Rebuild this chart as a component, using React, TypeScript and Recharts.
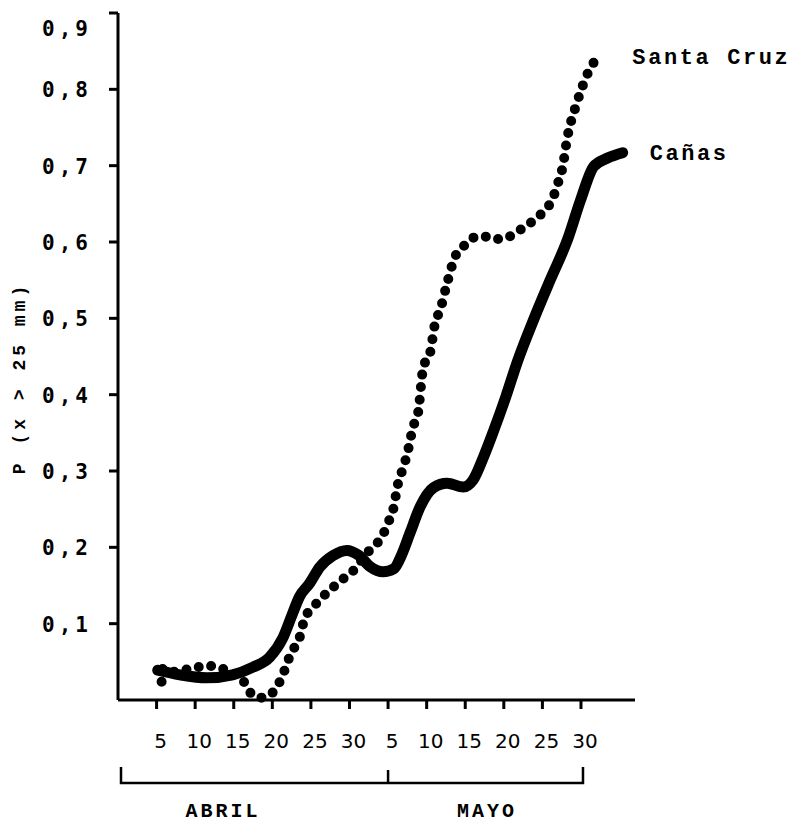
import { LineChart, Line, XAxis, YAxis } from "recharts"

// x is the tick slot (0 = 5 abril ... 11 = 30 mayo), y is the probability
const canasX = [0.03, 0.6, 1.3, 1.97, 2.5, 2.93, 3.27, 3.53, 3.7, 3.97, 4.23, 4.57, 4.93, 5.23, 5.53, 5.87, 6.15, 6.35, 6.57, 6.83, 7.17, 7.53, 7.95, 8.2, 8.47, 8.73, 9.05, 9.35, 9.77, 10.2, 10.65, 10.99, 11.33, 11.69, 12.08]
const canasY = [0.039, 0.033, 0.029, 0.033, 0.043, 0.056, 0.081, 0.114, 0.135, 0.153, 0.174, 0.189, 0.196, 0.19, 0.175, 0.168, 0.172, 0.19, 0.219, 0.253, 0.278, 0.284, 0.279, 0.288, 0.318, 0.352, 0.397, 0.443, 0.498, 0.55, 0.603, 0.655, 0.699, 0.71, 0.717]

const santaCruzX = [0.13, 0.16, 0.42, 0.68, 0.99, 1.3, 1.64, 1.9, 2.29, 2.42, 2.68, 2.94, 3.12, 3.27, 3.5, 3.69, 3.84, 4.03, 4.23, 4.49, 4.75, 4.96, 5.19, 5.4, 5.61, 5.84, 6.0, 6.13, 6.26, 6.39, 6.49, 6.65, 6.78, 6.91, 7.09, 7.22, 7.35, 7.53, 7.74, 7.95, 8.31, 8.6, 8.86, 9.22, 9.51, 9.77, 10.03, 10.26, 10.39, 10.52, 10.65, 10.86, 10.99, 11.14, 11.33, 11.58]
const santaCruzY = [0.024, 0.041, 0.037, 0.039, 0.042, 0.045, 0.042, 0.037, 0.022, 0.01, 0.003, 0.007, 0.017, 0.033, 0.063, 0.079, 0.107, 0.12, 0.131, 0.144, 0.155, 0.164, 0.174, 0.19, 0.2, 0.214, 0.232, 0.249, 0.284, 0.304, 0.321, 0.358, 0.377, 0.435, 0.455, 0.494, 0.511, 0.546, 0.581, 0.594, 0.607, 0.607, 0.604, 0.609, 0.619, 0.628, 0.64, 0.656, 0.675, 0.697, 0.738, 0.777, 0.797, 0.817, 0.835, 0.843]

const xTicks = [0, 1, 2, 3, 4, 5, 6, 7, 8, 9, 10, 11]
const xTickLabels = ["5", "10", "15", "20", "25", "30", "5", "10", "15", "20", "25", "30"]
const yTicks = [0.1, 0.2, 0.3, 0.4, 0.5, 0.6, 0.7, 0.8, 0.9]
const yTickLabels = ["0,1", "0,2", "0,3", "0,4", "0,5", "0,6", "0,7", "0,8", "0,9"]
const months = ["ABRIL", "MAYO"]

const canasData = canasX.map((x, i) => ({ x, y: canasY[i] }))
const santaCruzData = santaCruzX.map((x, i) => ({ x, y: santaCruzY[i] }))

const W = 796
const H = 823
const LEFT = 118
const RIGHT = 635
const TOP = 13
const BOTTOM = 700
const X_MIN = -1
const X_MAX = 12.4

const xPos = (v: number) => LEFT + ((v - X_MIN) / (X_MAX - X_MIN)) * (RIGHT - LEFT)

const XTick = ({ payload }: any) => (
  <text
    x={xPos(payload.value) + 4}
    y={748}
    textAnchor="middle"
    fontFamily="DejaVu Sans"
    fontSize={20}
    fill="#000"
  >
    {xTickLabels[xTicks.indexOf(payload.value)]}
  </text>
)

const YTick = ({ y, payload }: any) => {
  const i = yTicks.indexOf(payload.value)
  const shift = i === yTicks.length - 1 ? 15 : 0
  return (
    <text
      x={92}
      y={y + 8 + shift}
      textAnchor="end"
      fontFamily="DejaVu Sans Mono"
      fontWeight="bold"
      fontSize={21}
      letterSpacing={4}
      fill="#000"
    >
      {yTickLabels[i]}
    </text>
  )
}

const endLabel = (name: string, last: number, dx: number) => (props: any) => {
  if (props.index !== last) return null
  return (
    <text
      x={props.x + dx}
      y={props.y + 7}
      fontFamily="Liberation Mono"
      fontWeight="bold"
      fontSize={22}
      letterSpacing={2.6}
      fill="#000"
    >
      {name}
    </text>
  )
}

export default function App() {
  const divider = xPos(6)
  const monthEnd = xPos(11)
  return (
    <div style={{ position: "absolute", left: 0, top: 0, background: "#fff" }}>
      <LineChart
        width={W}
        height={H}
        margin={{ top: TOP, right: W - RIGHT, bottom: 0, left: 0 }}
      >
        <XAxis
          type="number"
          dataKey="x"
          domain={[X_MIN, X_MAX]}
          ticks={xTicks}
          allowDataOverflow
          height={H - BOTTOM}
          tickSize={9}
          tickLine={{ stroke: "#000", strokeWidth: 3 }}
          axisLine={{ stroke: "#000", strokeWidth: 3 }}
          tick={<XTick />}
          interval={0}
        />
        <YAxis
          type="number"
          domain={[0, 0.9]}
          ticks={yTicks}
          width={LEFT}
          tickSize={9}
          tickLine={{ stroke: "#000", strokeWidth: 3 }}
          axisLine={{ stroke: "#000", strokeWidth: 3 }}
          tick={<YTick />}
          interval={0}
        />
        <Line
          data={santaCruzData}
          dataKey="y"
          type="monotone"
          stroke="#000"
          strokeWidth={10}
          strokeLinecap="round"
          strokeDasharray="0 12.5"
          dot={false}
          activeDot={false}
          isAnimationActive={false}
          label={endLabel("Santa Cruz", santaCruzData.length - 1, 29)}
        />
        <Line
          data={canasData}
          dataKey="y"
          type="monotone"
          stroke="#000"
          strokeWidth={11}
          strokeLinecap="round"
          dot={false}
          activeDot={false}
          isAnimationActive={false}
          label={endLabel("Cañas", canasData.length - 1, 27)}
        />
        <g stroke="#000" strokeWidth={2.5} fill="none">
          <path d={`M${LEFT + 3},767 L${LEFT + 3},783 L${monthEnd + 2},783 L${monthEnd + 2},767`} />
          <path d={`M${divider},770 L${divider},783`} />
        </g>
        <text x={223} y={817} textAnchor="middle" fontFamily="Liberation Mono" fontWeight="bold" fontSize={20} letterSpacing={3} fill="#000">
          {months[0]}
        </text>
        <text x={487} y={817} textAnchor="middle" fontFamily="Liberation Mono" fontWeight="bold" fontSize={20} letterSpacing={3} fill="#000">
          {months[1]}
        </text>
        <text
          x={20}
          y={378}
          transform="rotate(-90, 20, 378)"
          textAnchor="middle"
          dominantBaseline="central"
          fontFamily="Liberation Mono"
          fontWeight="bold"
          fontSize={18}
          letterSpacing={4}
          fill="#000"
        >
          P (x &gt; 25 mm)
        </text>
      </LineChart>
    </div>
  )
}
